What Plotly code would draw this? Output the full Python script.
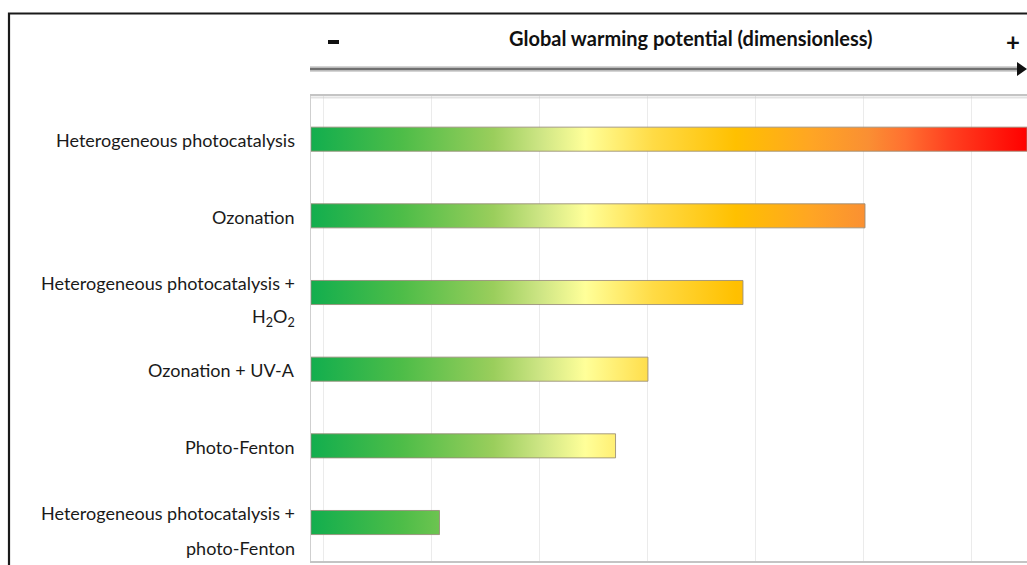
import plotly.graph_objects as go

# ---------------- data ----------------
categories = [
    "Heterogeneous photocatalysis",
    "Ozonation",
    "Heterogeneous photocatalysis +\nH<sub>2</sub>O<sub>2</sub>",
    "Ozonation + UV-A",
    "Photo-Fenton",
    "Heterogeneous photocatalysis +\nphoto-Fenton",
]
gwp_values = [6.63, 5.13, 4.00, 3.12, 2.82, 1.19]   # dimensionless
x_max = 6.63
axis_title = "Global warming potential (dimensionless)"

# gradient colours along the axis (fraction of the axis length)
grad_stops = [0.0, 0.128, 0.255, 0.32, 0.383, 0.478, 0.593, 0.70, 0.778, 0.83, 0.893, 1.0]
grad_colors = ["#12AE4E", "#4EBD48", "#9ACE5C", "#CDE584", "#FFFF99", "#FFDB45",
               "#FFC000", "#FFA524", "#FA8F33", "#FF7030", "#FF4020", "#FF0000"]

# ---------------- layout geometry ----------------
W, H = 1027, 565
ML, MR, MT, MB = 311, 0, 96, 4
PW, PH = W - ML - MR, H - MT - MB
FONT = "Lato, Roboto, 'Liberation Sans', sans-serif"


def px_x(px):
    return (px - ML) / PW


def px_y(py):
    return 1 + (MT - py) / PH


half = 0.157
fig = go.Figure()
colorscale = [[s, c] for s, c in zip(grad_stops, grad_colors)]
for i, (cat, v) in enumerate(zip(categories, gwp_values)):
    fig.add_trace(go.Scatter(
        x=[0, v, v, 0, 0],
        y=[i - half, i - half, i + half, i + half, i - half],
        mode="lines",
        fill="toself",
        fillgradient=dict(type="horizontal", colorscale=colorscale, start=0, stop=x_max),
        line=dict(color="rgba(150,140,120,0.85)", width=1),
        hoverinfo="skip",
        showlegend=False,
    ))

# category labels
label_font = dict(family=FONT, size=18, color="#1a1a1a")
for i, cat in enumerate(categories):
    lines = cat.split("\n")
    if len(lines) == 1:
        shifts = [-1]
    else:
        shifts = [10, -25]
    for line, sh in zip(lines, shifts):
        fig.add_annotation(x=0, xref="paper", xanchor="right", xshift=-14,
                           y=i, yref="y", yanchor="middle", yshift=sh,
                           text=line, showarrow=False, font=label_font)

# header: title, plus, arrow
fig.add_annotation(x=px_x(691), y=px_y(38), xref="paper", yref="paper",
                   xanchor="center", yanchor="middle",
                   text="<b>" + axis_title + "</b>", showarrow=False,
                   font=dict(family=FONT, size=20, color="#111"))
fig.add_annotation(x=px_x(1013), y=px_y(41), xref="paper", yref="paper",
                   xanchor="center", yanchor="middle",
                   text="<b>+</b>", showarrow=False,
                   font=dict(family=FONT, size=24, color="#111"))

shapes = []
# minus sign
shapes.append(dict(type="rect", xref="paper", yref="paper",
                   x0=px_x(328), x1=px_x(339), y0=px_y(44), y1=px_y(40),
                   fillcolor="#111", line=dict(width=0)))
# arrow shadow + line
shapes.append(dict(type="line", xref="paper", yref="paper",
                   x0=px_x(310), x1=px_x(1018), y0=px_y(69), y1=px_y(69),
                   line=dict(color="rgba(170,170,170,0.5)", width=6)))
shapes.append(dict(type="line", xref="paper", yref="paper",
                   x0=px_x(310), x1=px_x(1018), y0=px_y(69), y1=px_y(69),
                   line=dict(color="#707070", width=2.5)))
shapes.append(dict(type="path", xref="paper", yref="paper",
                   path=f"M {px_x(1017)},{px_y(62)} L {px_x(1027)},{px_y(69)} L {px_x(1017)},{px_y(76)} Z",
                   fillcolor="#111", line=dict(width=0)))
# plot frame shadow on top
shapes.append(dict(type="line", xref="paper", yref="paper",
                   x0=0, x1=1, y0=px_y(97.5), y1=px_y(97.5),
                   line=dict(color="rgba(200,200,200,0.5)", width=2)))
# outer black border
shapes.append(dict(type="rect", xref="paper", yref="paper",
                   x0=px_x(9), x1=px_x(1040), y0=px_y(580), y1=px_y(13.5),
                   line=dict(color="#1a1a1a", width=2.2), fillcolor="rgba(0,0,0,0)"))

fig.update_layout(
    width=W, height=H,
    margin=dict(l=ML, r=MR, t=MT, b=MB),
    paper_bgcolor="white", plot_bgcolor="white",
    shapes=shapes,
    xaxis=dict(range=[0, x_max], showgrid=True, gridcolor="#EBEBEB", gridwidth=1,
               tick0=0.112, dtick=1, showticklabels=False, ticks="",
               zeroline=False, showline=True, mirror=True, linecolor="#C4C4C4", linewidth=1.5,
               fixedrange=True),
    yaxis=dict(range=[5.502, -0.563], showgrid=False, showticklabels=False, ticks="",
               zeroline=False, showline=True, linecolor="#CFCFCF", linewidth=1.2,
               fixedrange=True),
)

fig.write_html("out.html")
